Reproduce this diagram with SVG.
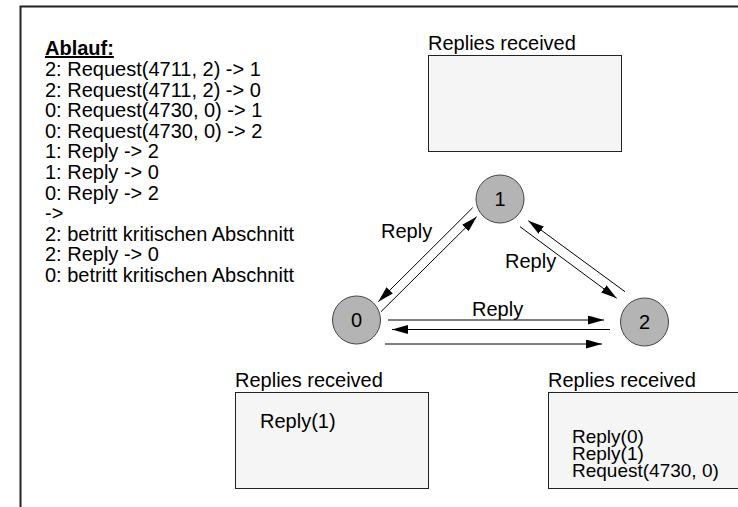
<svg xmlns="http://www.w3.org/2000/svg" width="738" height="507" viewBox="0 0 738 507">
  <style>
    text { font-family: "Liberation Sans", Arial, sans-serif; font-size: 20px; fill: #000; }
    .title { font-weight: bold; text-decoration: underline; }
    .node circle { fill: #b4b4b4; stroke: #444; stroke-width: 1; }
    .node text { text-anchor: middle; }
    .box rect { fill: #f5f5f5; stroke: #222; stroke-width: 1; }
    .box .tight { font-size: 19px; }
    .conn line { stroke: #000; stroke-width: 1; marker-end: url(#arrow); }
  </style>
  <defs>
    <marker id="arrow" markerUnits="userSpaceOnUse" markerWidth="17" markerHeight="10" refX="16" refY="4.5" orient="auto">
      <path d="M0,0 L16,4.5 L0,9 z" fill="#000"/>
    </marker>
  </defs>

  <rect width="738" height="507" fill="#fff"/>
  <!-- outer frame, open to the right and bottom -->
  <path d="M20.5,507 V6.5 H738" fill="none" stroke="#222" stroke-width="2"/>

  <!-- sequence of events -->
  <g id="ablauf">
    <text class="title" x="45" y="55">Ablauf:</text>
    <text x="45" y="76">2: Request(4711, 2) -&gt; 1</text>
    <text x="45" y="96.6">2: Request(4711, 2) -&gt; 0</text>
    <text x="45" y="117.2">0: Request(4730, 0) -&gt; 1</text>
    <text x="45" y="137.8">0: Request(4730, 0) -&gt; 2</text>
    <text x="45" y="158.4">1: Reply -&gt; 2</text>
    <text x="45" y="179">1: Reply -&gt; 0</text>
    <text x="45" y="199.6">0: Reply -&gt; 2</text>
    <text x="45" y="220.2">-&gt;</text>
    <text x="45" y="240.8">2: betritt kritischen Abschnitt</text>
    <text x="45" y="261.4">2: Reply -&gt; 0</text>
    <text x="45" y="282">0: betritt kritischen Abschnitt</text>
  </g>

  <!-- reply buffers of the processes -->
  <g id="box-1" class="box">
    <text x="428" y="50">Replies received</text>
    <rect x="428.5" y="55.5" width="193" height="96"/>
  </g>
  <g id="box-0" class="box">
    <text x="235" y="387">Replies received</text>
    <rect x="235.5" y="392.5" width="193" height="96"/>
    <text x="260" y="428">Reply(1)</text>
  </g>
  <g id="box-2" class="box">
    <text x="548" y="387">Replies received</text>
    <rect x="548.5" y="392.5" width="200" height="96"/>
    <text class="tight" x="572" y="443">Reply(0)</text>
    <text class="tight" x="572" y="460">Reply(1)</text>
    <text class="tight" x="572" y="477">Request(4730, 0)</text>
  </g>

  <!-- messages between the processes -->
  <g id="connectors" class="conn">
    <line x1="472.7" y1="207.7" x2="378.3" y2="301.7"/>
    <line x1="381" y1="311.7" x2="476.7" y2="216.7"/>
    <line x1="520" y1="226.7" x2="616.7" y2="298.3"/>
    <line x1="625" y1="291.7" x2="528.3" y2="220.7"/>
    <line x1="388" y1="320" x2="604" y2="320"/>
    <line x1="610" y1="329.5" x2="392" y2="329.5"/>
    <line x1="385" y1="344" x2="602" y2="344"/>
    <text x="381" y="238">Reply</text>
    <text x="505" y="268">Reply</text>
    <text x="472" y="316">Reply</text>
  </g>

  <!-- processes -->
  <g id="node-0" class="node">
    <circle cx="356.5" cy="320" r="24"/>
    <text x="356.5" y="327">0</text>
  </g>
  <g id="node-1" class="node">
    <circle cx="500" cy="199" r="24"/>
    <text x="500" y="206">1</text>
  </g>
  <g id="node-2" class="node">
    <circle cx="644.5" cy="322" r="24"/>
    <text x="644.5" y="329">2</text>
  </g>
</svg>
